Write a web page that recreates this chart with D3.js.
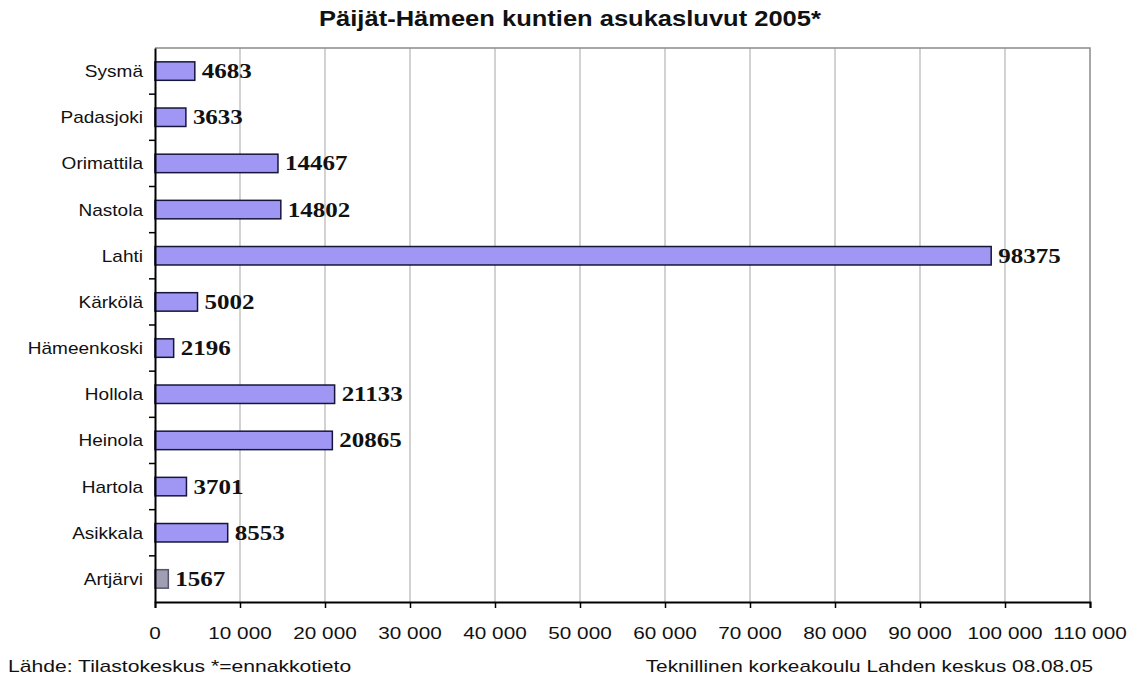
<!DOCTYPE html>
<html>
<head>
<meta charset="utf-8">
<script src="https://cdn.jsdelivr.net/npm/d3@7"></script>
<style>
  body { margin: 0; background: #fff; }
  svg { display: block; }
  text { font-family: Arial, "Liberation Sans", sans-serif; fill: #111; }
  text.val { font-family: "Liberation Serif", "Times New Roman", serif; font-weight: bold; font-size: 20px; }
</style>
</head>
<body>
<svg id="chart" width="1133" height="680"></svg>
<script>
// --- DATA ---
const municipalities = ["Sysmä", "Padasjoki", "Orimattila", "Nastola", "Lahti", "Kärkölä",
  "Hämeenkoski", "Hollola", "Heinola", "Hartola", "Asikkala", "Artjärvi"];
const population = [4683, 3633, 14467, 14802, 98375, 5002, 2196, 21133, 20865, 3701, 8553, 1567];
const xTicks = [0, 10000, 20000, 30000, 40000, 50000, 60000, 70000, 80000, 90000, 100000, 110000];
const title = "Päijät-Hämeen kuntien asukasluvut 2005*";
const sourceNote = "Lähde: Tilastokeskus  *=ennakkotieto";
const creditNote = "Teknillinen korkeakoulu Lahden keskus 08.08.05";

const svg = d3.select("#chart");
const margin = { top: 48, right: 43, bottom: 78, left: 155 };
const width = 1133, height = 680;

const x = d3.scaleLinear()
  .domain([0, 110000])
  .range([margin.left, width - margin.right]);

const y = d3.scaleBand()
  .domain(municipalities)
  .range([margin.top, height - margin.bottom])
  .paddingInner(0.6)
  .paddingOuter(0.3);

const fmt = d => d3.format(",")(d).replace(/,/g, " ");

// text with a horizontal stretch, like the original bitmap fonts
function stretchedText(g, tx, ty, str, sx) {
  return g.append("text")
    .attr("transform", `translate(${tx},${ty}) scale(${sx},1)`)
    .text(str);
}

// --- GRID ---
svg.append("g")
  .selectAll("line")
  .data(xTicks.slice(1, -1))
  .enter()
  .append("line")
  .attr("x1", d => x(d)).attr("x2", d => x(d))
  .attr("y1", margin.top).attr("y2", height - margin.bottom)
  .attr("stroke", "#b4b4b4")
  .attr("stroke-width", 1.2);

// plot border (top, right)
svg.append("path")
  .attr("d", `M${x(0)},${margin.top}H${x(110000)}V${height - margin.bottom}`)
  .attr("fill", "none")
  .attr("stroke", "#8a8a8a")
  .attr("stroke-width", 1.5);

// --- BARS ---
const rows = municipalities.map((m, i) => ({ name: m, value: population[i] }));

svg.append("g")
  .selectAll("rect")
  .data(rows)
  .enter()
  .append("rect")
  .attr("x", x(0))
  .attr("y", d => y(d.name))
  .attr("width", d => x(d.value) - x(0))
  .attr("height", y.bandwidth())
  .attr("fill", d => d.name === "Artjärvi" ? "#a09eb4" : "#9f97f3")
  .attr("stroke", d => d.name === "Artjärvi" ? "#55556a" : "#16163a")
  .attr("stroke-width", 1.5);

// value labels
const valG = svg.append("g");
rows.forEach(d => {
  stretchedText(valG, x(d.value) + 7, y(d.name) + y.bandwidth() / 2 + 7, String(d.value), 1.25)
    .attr("class", "val");
});

// --- AXES ---
const yAxis = svg.append("g")
  .attr("transform", `translate(${x(0)},0)`)
  .call(d3.axisLeft(y).tickSize(0).tickFormat(""));
yAxis.select(".domain").attr("stroke", "#000").attr("stroke-width", 2);

// category separators as ticks on the left
const bounds = d3.range(municipalities.length + 1)
  .map(i => margin.top + i * (height - margin.bottom - margin.top) / municipalities.length);
svg.append("g")
  .selectAll("line")
  .data(bounds.slice(1, -1))
  .enter()
  .append("line")
  .attr("x1", x(0) - 6).attr("x2", x(0))
  .attr("y1", d => d).attr("y2", d => d)
  .attr("stroke", "#000")
  .attr("stroke-width", 1.5);

const catG = svg.append("g").style("font-size", "17px").attr("text-anchor", "end");
municipalities.forEach(m => {
  stretchedText(catG, x(0) - 12, y(m) + y.bandwidth() / 2 + 6, m, 1.12).attr("fill", "#1a1a1a");
});

const xAxis = svg.append("g")
  .attr("transform", `translate(0,${height - margin.bottom})`)
  .call(d3.axisBottom(x).tickValues(xTicks).tickSize(6).tickFormat(""));
xAxis.select(".domain").attr("stroke", "#000").attr("stroke-width", 2);
xAxis.selectAll(".tick line").attr("stroke", "#000").attr("stroke-width", 1.5);

const tickG = svg.append("g").style("font-size", "17px").attr("text-anchor", "middle");
xTicks.forEach(t => {
  stretchedText(tickG, x(t), height - margin.bottom + 37, fmt(t), 1.22).attr("fill", "#1a1a1a");
});

// --- TITLE & NOTES ---
stretchedText(svg, 570, 26, title, 1.16)
  .attr("text-anchor", "middle")
  .style("font-size", "22px")
  .style("font-weight", "bold");

stretchedText(svg, 8, 672, sourceNote, 1.32)
  .style("font-size", "16px")
  .attr("fill", "#1a1a1a");

stretchedText(svg, 1093, 672, creditNote, 1.3)
  .attr("text-anchor", "end")
  .style("font-size", "16px")
  .attr("fill", "#1a1a1a");
</script>
</body>
</html>
